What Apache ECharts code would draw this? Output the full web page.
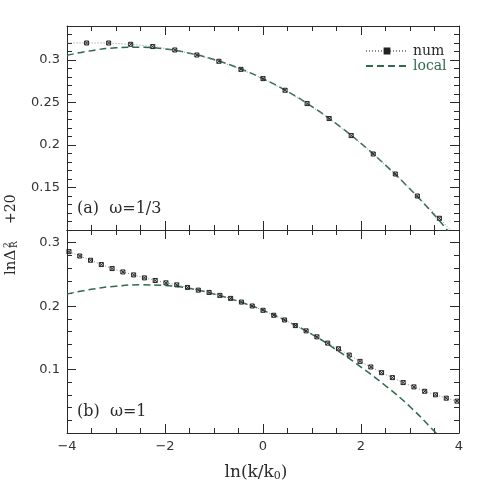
<!DOCTYPE html>
<html>
<head>
<meta charset="utf-8">
<script src="https://cdn.jsdelivr.net/npm/echarts@6/dist/echarts.min.js"></script>
<style>
  html, body { margin: 0; padding: 0; background: #fff; }
  #chart { width: 485px; height: 485px; }
</style>
</head>
<body>
<div id="chart"></div>
<script>
// panel (a): omega = 1/3
const topNumX = [-4.05, -3.6, -3.15, -2.7, -2.25, -1.8, -1.35, -0.9, -0.45, 0, 0.45, 0.9, 1.35, 1.8, 2.25, 2.7, 3.15, 3.6, 4.05];
const topNumY = [0.3202, 0.3200, 0.3200, 0.3185, 0.3158, 0.3118, 0.3059, 0.2985, 0.2890, 0.2781, 0.2644, 0.2487, 0.2311, 0.2111, 0.1894, 0.1659, 0.1400, 0.1138, 0.0860];
const topLocalX = [-4, -3.5, -3, -2.5, -2, -1.5, -1, -0.5, 0, 0.5, 1, 1.5, 2, 2.5, 3, 3.5, 3.8];
const topLocalY = [0.3055, 0.3110, 0.3143, 0.3150, 0.3130, 0.3080, 0.3005, 0.2905, 0.2780, 0.2630, 0.2452, 0.2248, 0.2019, 0.1763, 0.1482, 0.1174, 0.0970];

// panel (b): omega = 1
const botNumX = [-3.96, -3.74, -3.52, -3.30, -3.08, -2.86, -2.64, -2.42, -2.20, -1.98, -1.76, -1.54, -1.32, -1.10, -0.88, -0.66, -0.44, -0.22,
  0, 0.22, 0.44, 0.66, 0.88, 1.10, 1.32, 1.54, 1.76, 1.98, 2.20, 2.42, 2.64, 2.86, 3.08, 3.30, 3.52, 3.74, 3.96];
const botNumY = [0.2859, 0.2790, 0.2723, 0.2655, 0.2592, 0.2539, 0.2492, 0.2445, 0.2404, 0.2367, 0.2335, 0.2295, 0.2252, 0.2216, 0.2169, 0.2122, 0.2064, 0.2002,
  0.1934, 0.1856, 0.1782, 0.1693, 0.1610, 0.1516, 0.1417, 0.1328, 0.1229, 0.1129, 0.1041, 0.0951, 0.0873, 0.0795, 0.0727, 0.0658, 0.0602, 0.0549, 0.0502];
const botLocalX = [-4, -3.5, -3, -2.5, -2, -1.5, -1, -0.5, 0, 0.5, 1, 1.5, 2, 2.5, 3, 3.5, 3.6];
const botLocalY = [0.2190, 0.2265, 0.2315, 0.2335, 0.2325, 0.2280, 0.2190, 0.2075, 0.1934, 0.1758, 0.1555, 0.1310, 0.1040, 0.0745, 0.0415, 0.0025, -0.0050];

const panelLabels = ['(a)  ω=1/3', '(b)  ω=1'];

const green = '#2e6b4c';
const ink = '#2a2a2a';
const serif = 'DejaVu Serif';
const sans = 'DejaVu Sans';

const zip = (xs, ys) => xs.map((x, i) => [x, ys[i]]);
const fmt = (v) => String(+v.toFixed(2));
const boxCross = 'path://M0,0H10V10H0Z M0,0L10,10 M10,0L0,10';

const frameLine = { show: true, onZero: false, lineStyle: { color: ink, width: 1 } };
const ticks = { show: true, inside: true, length: 9, lineStyle: { color: ink, width: 1 } };
const minor = (n) => ({ show: true, splitNumber: n, length: 5, lineStyle: { color: ink, width: 1 } });

const xAxisBase = (grid, position, labels) => ({
  type: 'value', gridIndex: grid, position: position, min: -4, max: 4, interval: 2,
  axisLine: frameLine, axisTick: ticks, minorTick: minor(4),
  splitLine: { show: false },
  axisLabel: { show: labels, margin: 7, color: '#333', fontFamily: sans, fontSize: 13,
    formatter: (v) => String(v).replace('-', '\u2212') }
});

const yAxisBase = (grid, position, labels, min, max, interval, split) => ({
  type: 'value', gridIndex: grid, position: position, min: min, max: max, interval: interval,
  axisLine: frameLine, axisTick: ticks, minorTick: minor(split),
  splitLine: { show: false },
  axisLabel: { show: labels, margin: 7, color: '#333', fontFamily: sans, fontSize: 13,
    showMinLabel: false, showMaxLabel: false, formatter: fmt }
});

const numSeries = (name, xi, yi, data) => ({
  name: name, type: 'line', xAxisIndex: xi, yAxisIndex: yi, data: data,
  symbol: boxCross, symbolSize: 4, z: 3,
  itemStyle: { color: 'rgba(255,255,255,0)', borderColor: '#222', borderWidth: 1 },
  lineStyle: { color: '#8a8a8a', width: 1, type: [1, 2] }
});

const localSeries = (name, xi, yi, data) => ({
  name: name, type: 'line', xAxisIndex: xi, yAxisIndex: yi, data: data,
  symbol: 'none', smooth: true, z: 2,
  itemStyle: { color: green },
  lineStyle: { color: green, width: 1.5, type: [7, 4] }
});

const option = {
  animation: false,
  backgroundColor: '#fff',
  grid: [
    { left: 67, top: 26, width: 392, height: 204 },
    { left: 67, top: 230, width: 392, height: 203 }
  ],
  xAxis: [
    xAxisBase(0, 'bottom', false),
    xAxisBase(0, 'top', false),
    Object.assign(xAxisBase(1, 'bottom', true), {
      name: 'ln(k/k{sub|0})', nameLocation: 'middle', nameGap: 30,
      nameTextStyle: { fontFamily: serif, fontSize: 17, color: ink, padding: [0, 14, 0, 0],
        rich: { sub: { fontFamily: serif, fontSize: 11, verticalAlign: 'bottom', padding: [8, 0, 0, 0] } } }
    }),
    xAxisBase(1, 'top', false)
  ],
  yAxis: [
    yAxisBase(0, 'left', true, 0.1, 0.34, 0.05, 5),
    yAxisBase(0, 'right', false, 0.1, 0.34, 0.05, 5),
    yAxisBase(1, 'left', true, 0, 0.32, 0.1, 5),
    yAxisBase(1, 'right', false, 0, 0.32, 0.1, 5)
  ],
  legend: {
    orient: 'vertical', left: 365, top: 44, padding: 0, itemGap: 1,
    itemWidth: 42, itemHeight: 6, icon: 'inherit',
    textStyle: { fontFamily: serif, fontSize: 14, color: ink },
    data: ['num', { name: 'local', itemStyle: { opacity: 0 }, textStyle: { color: green } }]
  },
  title: [
    { text: panelLabels[0], left: 77, top: 201, padding: 0,
      textStyle: { fontFamily: serif, fontSize: 16, fontWeight: 'normal', color: ink } },
    { text: panelLabels[1], left: 77, top: 404, padding: 0,
      textStyle: { fontFamily: serif, fontSize: 16, fontWeight: 'normal', color: ink } }
  ],
  graphic: [{
    type: 'group', x: 11, y: 235, rotation: Math.PI / 2,
    children: [
      { type: 'text', x: -40, y: 0, style: { text: 'ln\u0394', font: '15px "DejaVu Serif"', fill: ink, verticalAlign: 'middle', align: 'left' } },
      { type: 'text', x: -13, y: -3.5, style: { text: '2', font: '9px "DejaVu Serif"', fill: ink, verticalAlign: 'middle', align: 'left' } },
      { type: 'text', x: -13, y: 4, style: { text: 'R', font: '9px "DejaVu Serif"', fill: ink, verticalAlign: 'middle', align: 'left' } },
      { type: 'text', x: 11, y: 0, style: { text: '+20', font: '14px "DejaVu Serif"', fill: ink, verticalAlign: 'middle', align: 'left' } }
    ]
  }],
  series: [
    localSeries('local', 0, 0, zip(topLocalX, topLocalY)),
    numSeries('num', 0, 0, zip(topNumX, topNumY)),
    localSeries('local', 2, 2, zip(botLocalX, botLocalY)),
    numSeries('num', 2, 2, zip(botNumX, botNumY))
  ]
};

const chart = echarts.init(document.getElementById('chart'), null, { renderer: 'canvas' });
chart.setOption(option);
</script>
</body>
</html>
